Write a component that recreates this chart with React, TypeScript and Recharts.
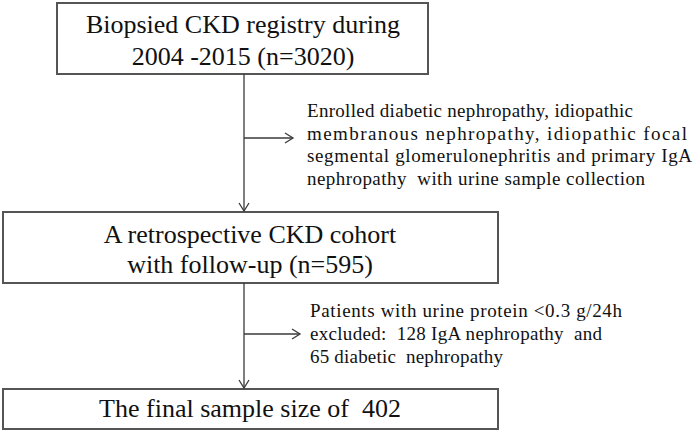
import React from 'react';
import { ScatterChart, Scatter, XAxis, YAxis, ReferenceArea, ReferenceLine } from 'recharts';

// flowchart laid out on a 693 x 432 data grid (y grows downward)
const boxes = [
    { id: 'registry', x1: 57, x2: 428, y1: 3, y2: 74 },
    { id: 'cohort', x1: 3, x2: 498, y1: 212, y2: 283 },
    { id: 'final', x1: 3, x2: 498, y1: 389, y2: 429 },
];

const connectors = [
    { x1: 244, y1: 74, x2: 244, y2: 211 },
    { x1: 244, y1: 138, x2: 293, y2: 138 },
    { x1: 244, y1: 283, x2: 244, y2: 388 },
    { x1: 244, y1: 334, x2: 300, y2: 334 },
];

const arrowHeads = [
    { x: 244, y: 211, dir: 'down' },
    { x: 293, y: 138, dir: 'right' },
    { x: 244, y: 388, dir: 'down' },
    { x: 300, y: 334, dir: 'right' },
];

const boxLabels = [
    { x: 243, y: 33, text: 'Biopsied CKD registry during' },
    { x: 243, y: 65, text: '2004 -2015 (n=3020)' },
    { x: 250, y: 243, text: 'A retrospective CKD cohort' },
    { x: 250, y: 273, text: 'with follow-up (n=595)' },
    { x: 250, y: 417, text: 'The final sample size of  402' },
];

const noteLabels = [
    { x: 307, y: 117, text: 'Enrolled diabetic nephropathy, idiopathic' },
    { x: 307, y: 139.5, text: 'membranous nephropathy, idiopathic focal' },
    { x: 307, y: 162, text: 'segmental glomerulonephritis and primary IgA' },
    { x: 307, y: 184.5, text: 'nephropathy  with urine sample collection' },
    { x: 310, y: 317, text: 'Patients with urine protein <0.3 g/24h' },
    { x: 310, y: 340, text: 'excluded:  128 IgA nephropathy  and' },
    { x: 310, y: 363, text: '65 diabetic  nephropathy' },
];

// rendered width of each note line (the source text is justified)
const noteWidths = [326, 380, 385, 338, 312, 292, 193];

const INK = '#3a3a3a';

const ArrowHead = (props: any) => {
    const { cx, cy, payload } = props;
    const d =
        payload.dir === 'down'
            ? `M${cx - 5},${cy - 8} L${cx},${cy} L${cx + 5},${cy - 8}`
            : `M${cx - 8},${cy - 5} L${cx},${cy} L${cx - 8},${cy + 5}`;
    return <path d={d} fill="none" stroke={INK} strokeWidth={1.3} />;
};

const BoxText = (props: any) => {
    const { cx, cy, payload } = props;
    return (
        <text x={cx} y={cy} textAnchor="middle" fill="#111" style={{ fontFamily: 'Liberation Serif', fontSize: 26, whiteSpace: 'pre' }}>
            {payload.text}
        </text>
    );
};

const NoteText = (props: any) => {
    const { cx, cy, payload, index } = props;
    return (
        <text
            x={cx}
            y={cy}
            fill="#111"
            textLength={noteWidths[index]}
            lengthAdjust="spacing"
            style={{ fontFamily: 'Liberation Serif', fontSize: 19, whiteSpace: 'pre' }}
        >
            {payload.text}
        </text>
    );
};

export default function App() {
    return (
        <div style={{ position: 'absolute', left: 0, top: 0, background: '#fff' }}>
            <ScatterChart width={693} height={432} margin={{ top: 0, right: 0, bottom: 0, left: 0 }}>
                <XAxis type="number" dataKey="x" domain={[0, 693]} hide />
                <YAxis type="number" dataKey="y" domain={[0, 432]} reversed hide />
                {boxes.map((b) => (
                    <ReferenceArea
                        key={b.id}
                        x1={b.x1}
                        x2={b.x2}
                        y1={b.y1}
                        y2={b.y2}
                        fill="#fff"
                        fillOpacity={1}
                        stroke="#555"
                        strokeWidth={2}
                        ifOverflow="visible"
                    />
                ))}
                {connectors.map((c, i) => (
                    <ReferenceLine
                        key={`c-${i}`}
                        segment={[{ x: c.x1, y: c.y1 }, { x: c.x2, y: c.y2 }]}
                        stroke={INK}
                        strokeWidth={1.3}
                        ifOverflow="visible"
                    />
                ))}
                <Scatter data={arrowHeads} shape={ArrowHead} isAnimationActive={false} />
                <Scatter data={boxLabels} shape={BoxText} isAnimationActive={false} />
                <Scatter data={noteLabels} shape={NoteText} isAnimationActive={false} />
            </ScatterChart>
        </div>
    );
}
